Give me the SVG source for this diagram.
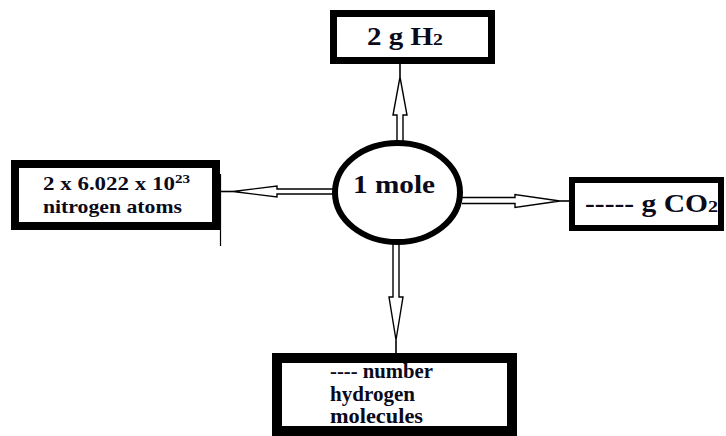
<svg xmlns="http://www.w3.org/2000/svg" width="726" height="436" viewBox="0 0 726 436">
<style>
.box{fill:#fff;stroke:#000}
.t{font-family:"Liberation Serif","Times New Roman",serif;font-weight:bold;fill:#0a0a1a}
.arr{fill:#fff;stroke:#000;stroke-width:1.4;stroke-linejoin:miter}
.ln{stroke:#000;stroke-width:1.6;fill:none}
</style>
<rect width="726" height="436" fill="#fff"/>
<g id="connectors">
<path class="arr" d="M397,144 L397,115 L393,115 L400,77 L407,115 L403,115 L403,144"/>
<line class="ln" x1="400" y1="77" x2="400" y2="64"/>
<path class="arr" d="M462,197.5 L515,197.5 L515,194.5 L560,201 L515,207.5 L515,203.5 L462,203.5"/>
<line class="ln" x1="560" y1="201" x2="570" y2="201"/>
<path class="arr" d="M334,189 L277,189 L277,186 L233,191.5 L277,197 L277,194 L334,194"/>
<line class="ln" x1="233" y1="191.5" x2="220" y2="191.5"/>
<path class="arr" d="M393,243 L393,297 L389,297 L396,340 L403,297 L399,297 L399,243"/>
<line class="ln" x1="396" y1="340" x2="396" y2="353"/>
</g>
<g id="node-top">
<rect class="box" x="333.5" y="13.5" width="158" height="47" stroke-width="7"/>
<text class="t" x="367" y="45" font-size="25" textLength="76" lengthAdjust="spacingAndGlyphs">2 g H<tspan font-size="17">2</tspan></text>
</g>
<g id="node-left">
<rect class="box" x="15" y="164" width="201" height="62" stroke-width="8"/>
<line x1="220.5" y1="174" x2="220.5" y2="246" stroke="#000" stroke-width="1.2"/>
<text class="t" x="43" y="190" font-size="19" textLength="147" lengthAdjust="spacingAndGlyphs">2 x 6.022 x 10<tspan font-size="12.5" dy="-7">23</tspan></text>
<text class="t" x="43" y="213" font-size="19" textLength="139" lengthAdjust="spacingAndGlyphs">nitrogen atoms</text>
</g>
<g id="node-center">
<ellipse cx="397.5" cy="192.5" rx="62.5" ry="49.5" fill="#fff" stroke="#000" stroke-width="6"/>
<text class="t" x="353" y="193" font-size="25" textLength="82" lengthAdjust="spacingAndGlyphs">1 mole</text>
</g>
<g id="node-right">
<rect class="box" x="572" y="180" width="149" height="48" stroke-width="6"/>
<text class="t" x="585" y="212" font-size="25" textLength="133" lengthAdjust="spacingAndGlyphs">----- g CO<tspan font-size="17">2</tspan></text>
</g>
<g id="node-bottom">
<rect class="box" x="277" y="358" width="235" height="73" stroke-width="10"/>
<text class="t" x="330" y="378" font-size="20" textLength="103" lengthAdjust="spacingAndGlyphs">---- number</text>
<text class="t" x="330" y="401" font-size="20" textLength="85" lengthAdjust="spacingAndGlyphs">hydrogen</text>
<text class="t" x="330" y="423" font-size="20" textLength="93" lengthAdjust="spacingAndGlyphs">molecules</text>
</g>
</svg>
